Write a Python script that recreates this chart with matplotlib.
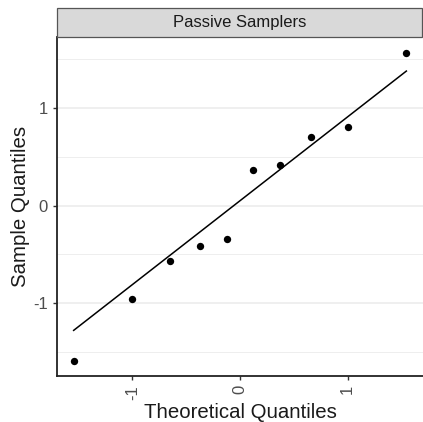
import numpy as np
import matplotlib
matplotlib.use("Agg")
import matplotlib.pyplot as plt
from matplotlib.patches import Rectangle

plt.rcParams['font.family'] = ['Liberation Sans', 'DejaVu Sans']
plt.rcParams['axes.unicode_minus'] = False

# valores
panel_title = "Passive Samplers"
theoretical = [-1.5466, -1.0005, -0.6554, -0.3755, -0.1226,
               0.1226, 0.3755, 0.6554, 1.0005, 1.5466]
sample = [-1.59, -0.96, -0.57, -0.41, -0.34, 0.36, 0.42, 0.70, 0.81, 1.57]
x_ticks = [-1, 0, 1]
y_ticks = [-1, 0, 1]

# recta de referencia (como qqline: por los cuartiles)
q1, q3 = np.quantile(sample, [0.25, 0.75])
z = 0.6744898
slope = (q3 - q1) / (2 * z)
intercept = q3 - slope * z
x_line = np.array([min(theoretical), max(theoretical)])
y_line = intercept + slope * x_line

fig = plt.figure(figsize=(4.23, 4.22), dpi=100)
ax = fig.add_axes([0.1348, 0.109, 0.8652, 0.803])

xr = max(theoretical) - min(theoretical)
ax.set_xlim(min(theoretical) - 0.05 * xr, max(theoretical) + 0.05 * xr)
yr = max(sample) - min(sample)
ax.set_ylim(min(sample) - 0.05 * yr, max(sample) + 0.05 * yr)

for y in [-1.5, -0.5, 0.5, 1.5]:
    ax.axhline(y, color='#EBEBEB', lw=0.6, zorder=0)
for y in y_ticks:
    ax.axhline(y, color='#EBEBEB', lw=1.1, zorder=0)

ax.plot(x_line, y_line, color='black', lw=1.1, zorder=2)
ax.scatter(theoretical, sample, s=28, color='black', zorder=3, linewidths=0)

ax.set_xticks(x_ticks)
ax.set_xticklabels([str(t) for t in x_ticks], rotation=90)
ax.set_yticks(y_ticks)
ax.tick_params(colors='#333333', labelcolor='#4D4D4D', labelsize=12,
               length=3, width=1)
for s in ['top', 'right']:
    ax.spines[s].set_visible(False)
for s in ['left', 'bottom']:
    ax.spines[s].set_linewidth(1.3)
    ax.spines[s].set_color('#222222')

ax.set_xlabel('Theoretical Quantiles', fontsize=14.7, color='#1A1A1A', labelpad=2)
ax.set_ylabel('Sample Quantiles', fontsize=14.7, color='#1A1A1A', labelpad=2)

# franja del panel
strip = Rectangle((0.1348, 0.912), 0.8652 - 0.002, 0.069, transform=fig.transFigure,
                  facecolor='#D9D9D9', edgecolor='#555555', lw=0.9)
fig.patches.append(strip)
fig.text(0.1348 + 0.8652 / 2, 0.912 + 0.0345, panel_title, ha='center', va='center',
         fontsize=12, color='#1A1A1A')

fig.savefig('out.png', dpi=100)
